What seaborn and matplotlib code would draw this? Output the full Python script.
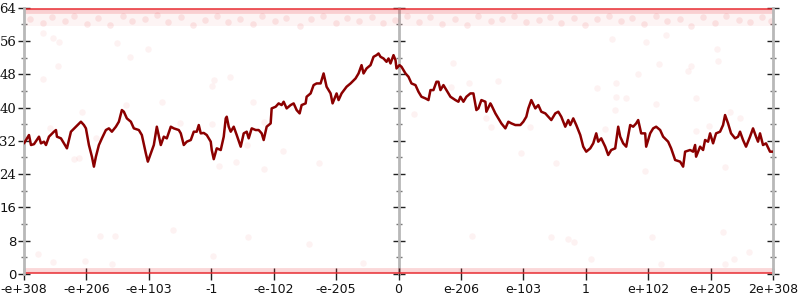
import matplotlib
matplotlib.use("Agg")
import matplotlib.pyplot as plt
from matplotlib.ticker import MultipleLocator
import seaborn as sns
import pandas as pd

# ---------------- data ----------------
x_tick_labels = ["-e+308", "-e+206", "-e+103", "-1", "-e-102", "-e-205", "0",
                 "e-206", "e-103", "1", "e+102", "e+205", "2e+308"]
y_ticks = [0, 8, 16, 24, 32, 40, 48, 56, 64]

line_x = [0, 5, 7, 10, 15, 17, 20, 22, 25, 30, 32, 33, 37, 40, 43, 47, 52, 57, 60, 62,
          65, 68, 70, 72, 75, 78, 82, 85, 88, 92, 95, 98, 100, 103, 107, 110, 115, 118, 122, 124,
          127, 130, 133, 137, 140, 143, 147,
          150, 155, 157, 160, 163, 167, 170, 173, 175, 177, 180, 183, 187, 188, 190, 193, 197, 200, 202, 203,
          205, 207, 210, 213, 217, 220, 223, 225, 228, 232, 235, 238, 240, 243, 247, 248, 252, 255, 258, 260,
          263, 267, 270, 273, 276, 278, 282, 283, 287, 290, 293, 297,
          300, 303, 307, 309, 313, 315, 318, 323, 327, 332, 335, 338, 340, 343, 347, 350, 353, 355, 357, 360,
          363, 365, 367, 370, 372, 373, 376, 378, 382, 385, 388, 392, 395, 398, 402, 405, 407, 410, 413, 415,
          417, 420, 423, 427, 432, 435, 437, 440, 443, 447,
          450, 453, 455, 458, 462, 463, 467, 468, 472, 475, 478, 482, 485, 488, 492, 497, 500, 503, 505, 508,
          512, 515, 518, 522, 525, 528, 532, 535, 538, 542, 545, 547, 550, 553, 557, 560, 563, 567, 570, 573,
          575, 578, 582, 585, 588, 592, 595, 597,
          600, 603, 607, 610, 613, 615, 618, 622, 623, 627, 630, 633, 637, 640, 645, 648, 652, 657, 660, 662,
          667, 670, 672, 673, 677, 680, 682, 685, 687, 690, 693, 697, 700, 702, 705, 708, 712, 715, 717, 720,
          723, 727, 730, 733, 735, 737, 740, 743, 747, 750]
line_y = [31.4, 33.4, 31, 31.2, 33, 31.4, 31.8, 31, 33, 34.2, 34.6, 33, 32.6, 31.4, 30.2, 34.2, 35.4, 36.6, 35.8, 35,
          31, 28.2, 25.8, 28.2, 31, 32.6, 34.6, 35, 34.2, 35.4, 36.6, 39.4, 39, 37.4, 36.6, 35, 34.6, 33.4, 29, 27,
          29, 31, 35.4, 31, 33, 32.6, 35.4,
          35, 34.6, 33.8, 31, 31.8, 32.2, 34.2, 34.2, 35.8, 33.8, 33.9, 33.4, 31.8, 29.8, 27.6, 30.2, 29.8, 33, 37.4, 37.8,
          35.4, 34.2, 35.4, 33.4, 30.6, 33.8, 34.2, 32.6, 35, 34.6, 34.6, 33.8, 32.2, 35.4, 36.2, 39.8, 40.2, 41, 40.6, 41.4,
          39.8, 40.6, 41, 39.4, 38.6, 40.6, 41, 42.6, 43.4, 45.4, 45.8, 45.8,
          48.2, 45, 43.4, 41, 43.4, 41.8, 43.4, 45, 45.8, 47, 48.2, 50.2, 48.2, 49.4, 50.2, 52.2, 52.6, 53, 52.2, 51.8,
          51, 51.8, 50.6, 52.6, 51.4, 49.4, 50.2, 49.8, 48.2, 47.4, 45.8, 45.4, 43.8, 42.6, 42.2, 41.8, 44.2, 44.2, 46.2, 46.2,
          44.2, 45.4, 44.2, 42.6, 41.8, 41.4, 42.6, 41.4, 42.6, 43.4,
          43.4, 39.4, 39.8, 41.8, 41.4, 39, 41, 40.6, 38.6, 37.4, 36.2, 35, 36.6, 36.2, 35.8, 35.8, 36.6, 37.8, 39.8, 41.8,
          39.8, 40.6, 39, 38.6, 37.8, 37, 38.6, 39, 37.8, 35.4, 37, 35.8, 37.4, 35.8, 33.4, 30.6, 29.4, 30.2, 31.4, 33.8,
          31.8, 32.6, 30.6, 28.6, 29.8, 30.2, 35.4, 33,
          31.4, 30.6, 35.8, 35.4, 36.2, 37, 33.8, 33.8, 30.6, 33.8, 35, 35.4, 34.6, 33, 31.8, 30.2, 27.4, 27, 25.8, 29.4,
          29.8, 29.4, 31, 28.2, 30.6, 29.8, 32.2, 31.8, 33.8, 31.4, 33.8, 34.2, 35.8, 38.2, 36.2, 33.8, 32.6, 33, 34.2, 32.2,
          30.6, 33, 35, 33, 31.8, 33.8, 31, 31.4, 29.4, 29.4]

# sparse faint sample points
pts_x = [58, 26, 72, 50, 55, 102, 138, 190, 188, 206, 229, 156, 188, 240, 223, 259, 195, 212, 240, 295,
         430, 446, 428, 391, 475, 574, 593, 592, 582, 507, 468, 463, 498, 533, 633, 673, 686, 707, 717, 622,
         702, 76, 91, 14, 29, 61, 88, 149, 189, 224, 285, 339, 449, 528, 545, 551, 629, 700, 726, 711,
         702, 568, 638, 19, 29, 35, 93, 106, 124, 34, 19, 589, 636, 694, 695, 668, 665, 615, 593, 603,
         673, 643, 623]
pts_y = [38.9, 35.1, 32.7, 27.6, 27.9, 40.6, 41.3, 46.6, 45.2, 47.4, 41.3, 36.3, 36.1, 36.5, 31.0, 29.6, 26.0, 26.9, 25.2, 26.7,
         50.7, 45.9, 45.0, 38.5, 46.4, 44.7, 45.9, 39.4, 34.9, 35.3, 35.3, 37.5, 29.1, 26.7, 40.9, 34.4, 35.6, 38.9, 37.5, 24.8,
         25.7, 9.1, 9.1, 4.8, 2.9, 3.1, 2.4, 10.6, 4.3, 8.9, 7.2, 2.6, 9.1, 8.9, 8.4, 7.7, 8.9, 10.1, 5.3, 3.6,
         2.4, 3.6, 2.4, 57.9, 56.7, 55.8, 55.5, 52.2, 54.1, 50.0, 46.9, 56.5, 50.5, 54.1, 51.2, 50.0, 48.8, 48.1, 42.5, 42.3,
         42.3, 57.5, 55.8]

# dense band of samples just below the top
band_x = [6, 19, 28, 41, 50, 63, 74, 86, 99, 108, 121, 133, 144, 157, 169, 181, 193, 204, 216, 229,
          238, 251, 262, 276, 287, 299, 312, 323, 335, 348, 359, 371, 384, 396, 407, 419, 432, 444, 455, 468,
          479, 491, 503, 516, 527, 538, 551, 562, 574, 586, 598, 609, 621, 633, 644, 657, 668, 680, 692, 703,
          716, 727, 739, 748]
band_y = [61.2, 60.4, 61.8, 60.9, 62.1, 60.2, 61.5, 59.8, 61.9, 60.7, 61.3, 62.2, 60.5, 61.7, 59.9, 61.1, 62.0, 60.6, 61.4, 60.1,
          61.9, 60.8, 61.6, 59.7, 61.2, 62.1, 60.3, 61.5, 60.9, 61.8, 60.4, 61.1, 62.0, 60.6, 61.7, 60.2, 61.3, 59.9, 61.9, 60.8,
          61.4, 62.1, 60.5, 61.0, 61.8, 60.3, 61.6, 59.8, 61.2, 62.0, 60.7, 61.5, 60.1, 61.9, 60.9, 61.3, 59.6, 61.7, 60.4, 62.0,
          61.1, 60.6, 61.8, 60.9]

# rows of saturated samples at the extremes
edge_rows = [0.15, 0.9, 63.2, 63.85]
edge_alpha = [0.75, 0.18, 0.22, 0.75]
band_span = [59.5, 62.6]

# ---------------- plot ----------------
sns.set_theme(style="white")
plt.rcParams["font.family"] = ["DejaVu Sans"]

fig = plt.figure(figsize=(8, 3), dpi=100)
ax = fig.add_axes([24 / 800, 26 / 300, 749 / 800, 266.3 / 300])

x_max = 750
ax.set_xlim(0, x_max)
ax.set_ylim(0, 64)

red = "#e8282e"
ax.axhspan(band_span[0], band_span[1], color=red, alpha=0.05, lw=0, zorder=1)
for lvl, a in zip(edge_rows, edge_alpha):
    ax.axhline(lvl, color=red, alpha=a, lw=2.2 if a > 0.5 else 3.5, zorder=2)

sns.scatterplot(x=band_x, y=band_y, ax=ax, color=red, alpha=0.10, s=22, linewidth=0, zorder=2)
sns.scatterplot(x=pts_x, y=pts_y, ax=ax, color=red, alpha=0.06, s=22, linewidth=0, zorder=2)

df = pd.DataFrame({"x": line_x, "y": line_y})
sns.lineplot(data=df, x="x", y="y", ax=ax, color="#8b0000", linewidth=1.8,
             estimator=None, sort=False, zorder=4)
ax.set_xlabel("")
ax.set_ylabel("")

# spines
for s in ["top", "bottom"]:
    ax.spines[s].set_visible(False)
for s in ["left", "right"]:
    ax.spines[s].set_visible(True)
    ax.spines[s].set_color("#b8b8b8")
    ax.spines[s].set_linewidth(2)

# ticks
xt = [i * x_max / 12 for i in range(13)]
ax.set_xticks(xt)
ax.set_xticklabels([""] + x_tick_labels[1:], fontsize=9)
# first label: placed by its left edge at the figure's left border
fig.text(0.0, 0.0, x_tick_labels[0], ha="left", va="bottom", fontsize=9,
         color="#111111", transform=fig.transFigure)
ax.set_yticks(y_ticks)
ax.set_yticklabels([str(v) for v in y_ticks], fontsize=9.5)
for lab, v in zip(ax.get_yticklabels(), y_ticks):
    lab.set_family("DejaVu Serif" if v >= 24 else "DejaVu Sans")
ax.yaxis.set_minor_locator(MultipleLocator(4))
ax.tick_params(axis="x", which="major", direction="inout", length=9, width=1,
               color="#222222", bottom=True, pad=2, labelcolor="#111111")
ax.tick_params(axis="y", which="major", direction="inout", length=9, width=1,
               color="#222222", left=True, right=True, labelright=False, pad=1, labelcolor="#111111")
ax.tick_params(axis="y", which="minor", direction="inout", length=4, width=1,
               color="#777777", left=True, right=True)

# center axis line with ticks
sec = ax.secondary_yaxis(0.5)
sec.spines["right"].set_color("#b8b8b8")
sec.spines["right"].set_linewidth(2)
sec.set_yticks(y_ticks)
sec.set_yticklabels([])
sec.yaxis.set_minor_locator(MultipleLocator(4))
sec.tick_params(axis="y", which="major", direction="inout", length=9, width=1, color="#222222")
sec.tick_params(axis="y", which="minor", direction="inout", length=4, width=1, color="#777777")

# align the separately placed first label vertically with the other tick labels
fig.canvas.draw()
ref_lab = ax.get_xticklabels()[1]
bb = ref_lab.get_window_extent()
fig.texts[0].set_y(bb.y0 / fig.bbox.height)

ax.grid(False)
fig.savefig("out.png", dpi=100, facecolor="white")
